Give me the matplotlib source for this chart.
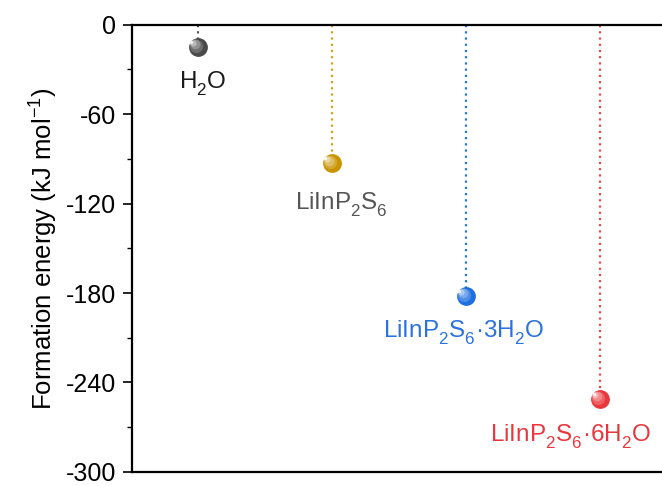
import matplotlib
matplotlib.use("Agg")
import matplotlib.pyplot as plt
from matplotlib import _mathtext
from matplotlib.ticker import MultipleLocator

plt.rcParams['font.family'] = ['Liberation Sans', 'DejaVu Sans']
plt.rcParams['mathtext.fontset'] = 'custom'
plt.rcParams['mathtext.rm'] = 'Liberation Sans'
plt.rcParams['mathtext.it'] = 'Liberation Sans'
plt.rcParams['mathtext.default'] = 'regular'
# drop chemical subscripts a bit lower than the mathtext default
_mathtext.FontConstantsBase.subdrop = 0.55
_mathtext.FontConstantsBase.sub1 = 0.55

# formation energies (kJ/mol)
species = ['H$_2$O', 'LiInP$_2$S$_6$', 'LiInP$_2$S$_6$·3H$_2$O', 'LiInP$_2$S$_6$·6H$_2$O']
energy = [-15, -93, -182, -251]
ball_colors = ['#4a4a4a', '#c99400', '#1f6fe0', '#e8383d']
line_colors = ['#555555', '#d4a21c', '#2a72dd', '#e84a4e']
text_colors = ['#1a1a1a', '#555555', '#2a72dd', '#e8383d']
yticks = [0, -60, -120, -180, -240, -300]


def draw_ball(ax, x, y, color):
    # shaded sphere: dark base, then lighter layers pulled toward the upper left
    ax.plot(x, y, 'o', ms=12.5, color=color, mec=color, zorder=4)
    steps = [(9.5, 0.2), (7, 0.4), (4.5, 0.62), (2.5, 0.92)]
    for i, (ms, mix) in enumerate(steps):
        c = matplotlib.colors.to_rgb(color)
        c = tuple(v + (1 - v) * mix for v in c)
        dx = -0.012 * (i + 1)
        dy = 0.9 * (i + 1)
        ax.plot(x + dx, y + dy, 'o', ms=ms, color=c, mec='none', zorder=5 + i)


fig = plt.figure(figsize=(6.62, 4.86), dpi=100)
ax = fig.add_axes([0.199, 0.029, 0.801, 0.920])

xs = [1, 2, 3, 4]
for x, e, bc, lc in zip(xs, energy, ball_colors, line_colors):
    ax.plot([x, x], [0, e], ls=(0, (1, 1.8)), lw=1.6, color=lc, zorder=2)
    draw_ball(ax, x, e, bc)

label_pos = [(1.04, -40), (2.07, -121), (2.98, -207), (3.78, -276.5)]
for (lx, ly), name, tc in zip(label_pos, species, text_colors):
    ax.text(lx, ly, name, ha='center', va='center', fontsize=17.5, color=tc)

ax.set_xlim(0.507, 4.463)
ax.set_ylim(-300, 0)
ax.set_yticks(yticks)
ax.set_yticklabels([str(t) for t in yticks])
ax.yaxis.set_minor_locator(MultipleLocator(30))
ax.set_xticks([])
ax.tick_params(axis='y', which='major', direction='out', length=6.5, width=1.2, labelsize=18, pad=5)
ax.tick_params(axis='y', which='minor', direction='out', length=3.5, width=1.0)
ax.spines['right'].set_visible(False)
for s in ['left', 'top', 'bottom']:
    ax.spines[s].set_linewidth(1.6)
ax.set_ylabel('Formation energy (kJ mol$^{-1}$)', fontsize=18.5, labelpad=4)

fig.savefig('out.png', dpi=100)
